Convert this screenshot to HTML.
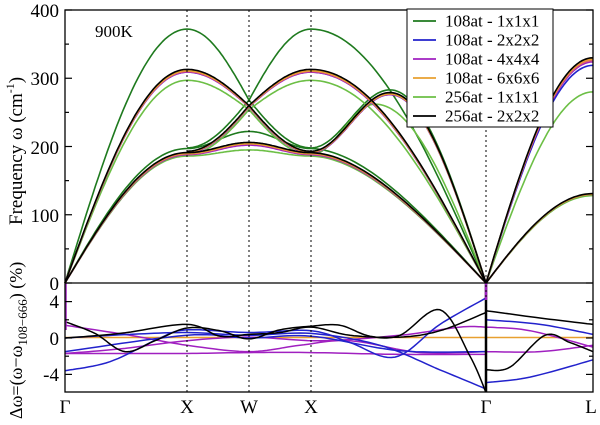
<!DOCTYPE html>
<html><head><meta charset="utf-8"><style>
body{margin:0;background:#fff;width:600px;height:420px;overflow:hidden}
svg text{font-family:"Liberation Serif",serif;fill:#000}
</style></head><body>
<svg id="s" width="600" height="420" xmlns="http://www.w3.org/2000/svg">
<g id="curves" fill="none" stroke-width="1.6" stroke-linejoin="round"></g>
<g stroke="#000" stroke-width="1" stroke-dasharray="2,3">
<line x1="187" y1="10" x2="187" y2="392"/><line x1="249" y1="10" x2="249" y2="392"/>
<line x1="311" y1="10" x2="311" y2="392"/><line x1="486" y1="10" x2="486" y2="392"/>
</g>
<rect x="65" y="10" width="528" height="382" fill="none" stroke="#000" stroke-width="1.3"/>
<line x1="65" y1="283" x2="593" y2="283" stroke="#000" stroke-width="1.3"/>
<g id="ticks" stroke="#000" stroke-width="1.2"></g>
<g font-size="19" text-anchor="end">
<text x="59" y="17">400</text><text x="59" y="85">300</text><text x="59" y="154">200</text>
<text x="59" y="222">100</text><text x="59" y="290">0</text>
<text x="59" y="308">4</text><text x="59" y="345">0</text><text x="59" y="381">-4</text>
</g>
<g font-size="19" text-anchor="middle">
<text x="65" y="413">Γ</text><text x="187" y="413">X</text><text x="249" y="413">W</text>
<text x="311" y="413">X</text><text x="486" y="413">Γ</text><text x="591" y="413">L</text>
</g>
<text x="95" y="37" font-size="17">900K</text>
<text transform="translate(22,225) rotate(-90)" font-size="19">Frequency ω  (cm<tspan dy="-8" font-size="12">-1</tspan><tspan dy="8">)</tspan></text>
<text transform="translate(22,419) rotate(-90)" font-size="18">Δω=(ω−ω<tspan dy="5" font-size="13">108−666</tspan><tspan dy="-5">) (%)</tspan></text>
<rect x="407" y="9" width="146" height="118" fill="#fff" stroke="#000" stroke-width="1"/>
<g id="leg" font-size="17"></g>
</svg>
<script>
const NS="http://www.w3.org/2000/svg";
const G=document.getElementById('curves');
function add(parent,tag,attrs){const e=document.createElementNS(NS,tag);for(const k in attrs)e.setAttribute(k,attrs[k]);parent.appendChild(e);return e;}
const Y=v=>283-0.6825*v;
const YD=d=>338-9.1*d;
function poly(pts,col,w){add(G,'polyline',{points:pts.map(p=>p[0].toFixed(1)+','+p[1].toFixed(1)).join(' '),stroke:col,'stroke-width':w||1.6});}
function seg(x0,x1,f){const r=[];for(let i=0;i<=40;i++){const t=i/40;r.push([x0+(x1-x0)*t,Y(f(t))]);}return r;}
const cosI=(a,b)=>t=>a+(b-a)*(1-Math.cos(Math.PI*t))/2;
const toW=(a,w)=>t=>w+(a-w)*Math.cos(Math.PI/2*t);
const fromW=(w,a)=>t=>w+(a-w)*Math.sin(Math.PI/2*t);
const sinG=(a)=>t=>a*Math.sin(Math.PI/2*t);
const cosG=(a)=>t=>a*Math.cos(Math.PI/2*t);
function band(c,col){
 const P=[];
 P.push(seg(65,187,sinG(c.LA)));P.push(seg(65,187,sinG(c.TA)));
 P.push(seg(187,249,toW(c.LA,c.Wt)).concat(seg(249,311,fromW(c.Wt,c.TA2))));
 P.push(seg(187,249,toW(c.TA2,c.Wt)).concat(seg(249,311,fromW(c.Wt,c.LA))));
 P.push(seg(187,249,cosI(c.TA,c.Wl)).concat(seg(249,311,cosI(c.Wl,c.TA))));
 P.push(seg(311,486,cosG(c.LA)));
 P.push(seg(311,486,t=>c.TA*Math.cos(Math.PI/2*Math.pow(t,0.9))));
 P.push(seg(311,c.hx,cosI(c.TA2,c.hump)).concat(seg(c.hx,486,cosG(c.hump))));
 P.push(seg(486,593,sinG(c.LAL)));P.push(seg(486,593,sinG(c.TAL)));
 P.forEach(p=>poly(p,col));
}
band({LA:372,TA:197,TA2:198,Wt:268,Wl:222,hump:283,hx:390,LAL:328,TAL:130},'#1e7a1e');
band({LA:297,TA:186,TA2:188,Wt:254,Wl:195,hump:262,hx:375,LAL:280,TAL:128},'#6cbf45');
band({LA:309,TA:189,TA2:191,Wt:259,Wl:203,hump:276,hx:390,LAL:319,TAL:130},'#2222cc');
band({LA:309,TA:188,TA2:191,Wt:258,Wl:202,hump:276,hx:390,LAL:324,TAL:130},'#a020c0');
band({LA:310,TA:189,TA2:192,Wt:259,Wl:204,hump:277,hx:390,LAL:326,TAL:130},'#e06868');
band({LA:311,TA:190,TA2:192,Wt:259,Wl:204,hump:277,hx:390,LAL:328,TAL:130},'#e8a030');
band({LA:313,TA:191,TA2:193,Wt:260,Wl:206,hump:279,hx:390,LAL:330,TAL:131},'#000');
function cr(pts,col){const r=[];const P=pts.map(p=>[p[0],YD(p[1])]);
 for(let i=0;i<P.length-1;i++){const p0=P[Math.max(0,i-1)],p1=P[i],p2=P[i+1],p3=P[Math.min(P.length-1,i+2)];
  for(let k=0;k<12;k++){const t=k/12,t2=t*t,t3=t2*t;
   r.push([0,1].map(j=>0.5*((2*p1[j])+(-p0[j]+p2[j])*t+(2*p0[j]-5*p1[j]+4*p2[j]-p3[j])*t2+(-p0[j]+3*p1[j]-3*p2[j]+p3[j])*t3)));}}
 r.push(P[P.length-1]);poly(r.map(p=>[p[0],Math.max(283,Math.min(392,p[1]))]),col,1.5);}
cr([[65,0.05],[486,0.05],[593,0.05]],'#e8a030');
const mg='#a020c0',bl='#2222cc',bk='#000';
cr([[65,1.4],[130,0.3],[187,-0.8],[249,-1.5],[300,-0.8],[350,-0.3],[420,-1.6],[486,-1.5]],mg);
cr([[65,-1.7],[130,-1.7],[187,-1.7],[249,-1.6],[311,-1.6],[400,-1.8],[486,-1.8]],mg);
cr([[65,-1.7],[120,-1.2],[187,-0.3],[249,0.1],[320,-0.3],[400,0.3],[460,1.2],[486,1.2]],mg);
cr([[486,1.2],[530,0.8],[593,-1.0]],mg);
cr([[486,-1.5],[540,-1.5],[593,-0.8]],mg);
cr([[65,-3.6],[110,-2.6],[160,0],[187,0.9],[249,0.6],[311,0.8],[350,-0.5],[395,-2.1],[440,1.5],[486,4.4]],bl);
cr([[65,0],[130,0.4],[187,0.6],[249,0.3],[311,0.5],[380,-0.8],[440,-3.5],[486,-5.6]],bl);
cr([[65,-1.5],[187,0.3],[249,0],[311,0.2],[400,-1.4],[486,-1.5]],bl);
cr([[486,2],[540,1.5],[593,0.4]],bl);
cr([[486,-4.9],[530,-4.3],[593,-2.4]],bl);
cr([[65,1.8],[95,0.5],[125,-1.5],[155,-0.3],[187,1.1],[220,0.8],[249,-0.1],[280,0.9],[311,1.3],[340,1.4],[370,0.2],[400,0.3],[440,3.1],[470,-2],[486,-6]],bk);
cr([[65,0],[120,0.5],[187,1.5],[220,0.2],[249,0.4],[280,0.6],[311,1.2],[350,0.3],[400,0.1],[440,0.8],[486,2.8]],bk);
cr([[486,3],[540,2.2],[593,1.5]],bk);
cr([[486,-3.5],[510,-3.2],[545,0.3],[570,-0.5],[593,-1.5]],bk);
add(G,'line',{x1:486,y1:283,x2:486,y2:392,stroke:'#000','stroke-width':2.5});
add(G,'line',{x1:486,y1:283,x2:486,y2:300,stroke:mg,'stroke-width':2.5});
add(G,'line',{x1:66,y1:283,x2:66,y2:330,stroke:mg,'stroke-width':1.5});
const T=document.getElementById('ticks');
for(let v=0;v<=400;v+=50){const L=v%100?4:7;add(T,'line',{x1:65,y1:Y(v),x2:65+L,y2:Y(v)});add(T,'line',{x1:593,y1:Y(v),x2:593-L,y2:Y(v)});}
for(let d=-4;d<=4;d+=2){const L=d%4?4:7;add(T,'line',{x1:65,y1:YD(d),x2:65+L,y2:YD(d)});add(T,'line',{x1:593,y1:YD(d),x2:593-L,y2:YD(d)});}
const leg=document.getElementById('leg');
[['#1e7a1e','108at - 1x1x1'],['#2222cc','108at - 2x2x2'],['#a020c0','108at - 4x4x4'],['#e8a030','108at - 6x6x6'],['#6cbf45','256at - 1x1x1'],['#000','256at - 2x2x2']].forEach((e,i)=>{
 const y=21+i*19;add(leg,'line',{x1:413,y1:y,x2:436,y2:y,stroke:e[0],'stroke-width':1.8});
 const t=add(leg,'text',{x:445,y:y+5.5});t.textContent=e[1];});
</script>
</body></html>
